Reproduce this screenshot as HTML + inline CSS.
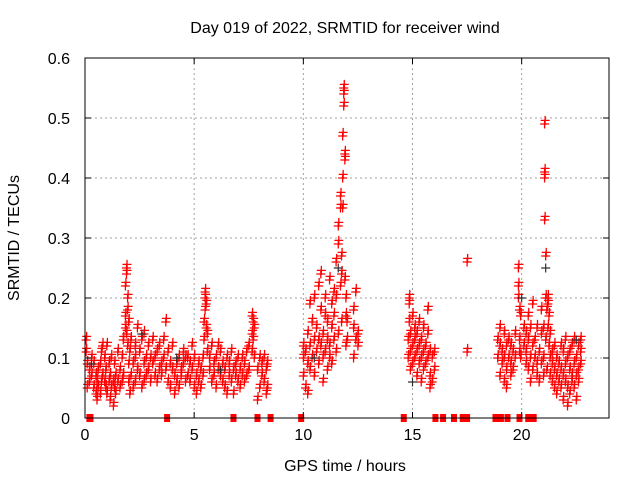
<!DOCTYPE html>
<html><head><meta charset="utf-8"><style>
html,body{margin:0;padding:0;background:#fff}
svg{display:block;font-family:"Liberation Sans",sans-serif}
</style></head><body>
<svg id="chart" width="640" height="480">
<rect width="640" height="480" fill="#fff"/>
</svg>
<script>
// ---- data ----
const xTicks = [0, 5, 10, 15, 20];
const yTicks = [0, 0.1, 0.2, 0.3, 0.4, 0.5, 0.6];
const yTickLabels = ["0", "0.1", "0.2", "0.3", "0.4", "0.5", "0.6"];
// groups: [hour, value, value, ...]
const srmtidGroups = [
[0.05,.13,.11],[0.1,.05,.09],[0.2,.08,.06],[0.3,.07,.1],[0.4,.05,.09],[0.5,.04,.07],[0.55,.03,.06],[0.6,.08,.05],[0.7,.09,.04],[0.75,.11,.06],[0.8,.07,.12],[0.9,.1,.06],[0.95,.05,.08],[1.0,.12,.04],[1.1,.06,.09],[1.15,.03,.07],[1.2,.05,.1],[1.3,.02,.06],[1.35,.09,.05],[1.4,.04,.07],[1.5,.06,.11],[1.6,.08,.05],[1.7,.1,.06],[1.75,.13,.07],
[1.85,.15,.22,.17],[1.9,.25,.24,.14],[1.95,.18,.2,.12],[2.0,.09,.06,.16],[2.05,.04,.11],
[2.1,.07,.13],[2.2,.05,.09],[2.3,.1,.12,.06],[2.4,.08,.15],[2.5,.07,.11],[2.6,.05,.13],[2.7,.09,.06,.14],[2.8,.1,.07],[2.9,.08,.12],[3.0,.06,.1],
[3.1,.09,.13],[3.2,.07,.1],[3.3,.11,.06],[3.4,.08,.12],[3.5,.07,.09],[3.6,.1,.13],[3.7,.08,.16],[3.8,.06,.11],[3.9,.05,.09],[4.0,.08,.12],[4.1,.07,.04],[4.2,.09,.06],[4.3,.1,.05],[4.4,.08,.07],[4.5,.09,.11],[4.6,.06,.1],
[4.7,.07,.1],[4.8,.06,.09],[4.9,.08,.12],[5.0,.05,.1],[5.1,.07,.04],[5.2,.09,.06],[5.3,.08,.05],[5.4,.1,.07],
[5.45,.13,.16],[5.5,.2,.18,.21],[5.55,.15,.19],[5.6,.11,.14],
[5.7,.08,.1],[5.8,.06,.12],[5.9,.09,.07],[6.0,.1,.05],[6.1,.08,.12],[6.2,.07,.11],[6.3,.09,.06],[6.4,.05,.08],[6.5,.1,.04],[6.6,.07,.09],[6.7,.06,.11],[6.8,.04,.08],[6.9,.09,.07],
[7.0,.06,.1],[7.1,.08,.05],[7.2,.1,.07],[7.3,.09,.06],[7.4,.07,.11],[7.5,.08,.12],
[7.65,.14,.17,.11],[7.7,.16,.13],[7.75,.1,.15],
[7.9,.08,.03],[8.0,.1,.05],[8.1,.07,.09],[8.2,.06,.1],[8.3,.08,.04],[8.35,.05,.09],
[10.0,.1,.07,.12],[10.1,.05,.11],[10.2,.09,.14,.04],[10.3,.12,.19,.08],[10.4,.1,.16],[10.5,.13,.07,.2],[10.6,.11,.15],[10.7,.22,.13,.09],[10.8,.24,.12,.18],[10.9,.1,.14,.06],[11.0,.17,.11,.2],[11.1,.13,.08,.16],[11.2,.12,.23,.1],[11.3,.15,.19,.09],
[11.4,.13,.21,.17],[11.5,.26,.11,.2],[11.6,.29,.32,.14],[11.7,.37,.22,.35],[11.75,.27,.16,.24],[11.8,.35,.4,.47],[11.85,.52,.55,.54],[11.9,.44,.43,.23],[11.95,.2,.17,.12],[12.0,.16,.13],
[12.3,.1,.15,.18],[12.4,.21,.13],[12.5,.12,.14],
[14.8,.1,.13],[14.85,.2,.19,.16],[14.9,.11,.08,.14],[15.0,.12,.17,.09],[15.1,.1,.13,.15],[15.2,.11,.14,.07],[15.3,.09,.12,.16],[15.4,.13,.1,.06],[15.5,.11,.08,.15],[15.6,.12,.09],[15.7,.18,.1,.14],[15.8,.07,.11,.05],[15.9,.1,.06],[16.0,.08,.11],
[17.5,.26,.11],
[18.9,.1,.13],[19.0,.12,.07,.15],[19.1,.09,.11],[19.2,.14,.1,.06],[19.3,.12,.08,.05],[19.4,.1,.13],[19.5,.09,.07,.12],[19.6,.11,.08],[19.7,.1,.14],
[19.85,.22,.25,.2],[19.9,.18,.13,.11],[19.95,.17,.1],
[20.1,.15,.12],[20.2,.09,.14,.11],[20.3,.13,.08,.17],[20.4,.1,.15,.06],[20.5,.12,.19,.08],[20.6,.13,.1],[20.7,.09,.15,.07],[20.8,.11,.06],[20.9,.14,.09,.18],
[21.0,.15,.1,.07],[21.05,.33,.4,.41,.49],[21.1,.27,.2,.13],[21.15,.18,.08],[21.2,.2,.19,.15],[21.25,.17,.12],[21.3,.1,.14,.07],
[21.4,.09,.06,.11],[21.5,.08,.12,.05],[21.6,.1,.07,.04],[21.7,.09,.06],[21.8,.12,.08,.05],[21.9,.07,.11,.03],[22.0,.09,.06,.13],[22.1,.05,.1,.02],[22.2,.08,.11,.04],[22.3,.07,.12,.06],[22.4,.09,.05,.13],[22.5,.1,.07,.03],[22.6,.08,.12,.06],[22.7,.11,.09,.13]
];
const zeroHours = [0.2,0.25,3.76,6.8,7.9,8.5,9.9,14.6,16.05,16.4,16.9,17.3,17.45,17.5,18.8,19.05,19.35,19.9,20.3,20.55];
const darkGroups = [[0.3,.09],[2.6,.14],[4.2,.1],[6.2,.08],[10.5,.1],[11.6,.25],[15.0,.06],[20.0,.2],[21.1,.25],[22.5,.13]];

// ---- axes ----
const L=85, R=609, T=58, B=418, XMAX=24, YMAX=0.6;
const xs = h => L + h/XMAX*(R-L);
const ys = v => B - v/YMAX*(B-T);
const svg = document.getElementById('chart');
const NS='http://www.w3.org/2000/svg';
function mk(tag, attrs){const e=document.createElementNS(NS,tag);for(const k in attrs)e.setAttribute(k,attrs[k]);return e;}

const grid = mk('g',{stroke:'#a0a0a0','stroke-width':1,'stroke-dasharray':'2,3'});


svg.appendChild(grid);
xTicks.forEach(t=>{ if(t>0) grid.appendChild(mk('line',{x1:xs(t),x2:xs(t),y1:T,y2:B})); });
yTicks.forEach(t=>{ if(t>0 && t<YMAX) grid.appendChild(mk('line',{x1:L,x2:R,y1:ys(t),y2:ys(t)})); });

const pts = mk('g',{stroke:'#ff0000','stroke-width':1.3,fill:'none'});


svg.appendChild(pts);
function cross(g,h,v){
  const x=xs(h), y=ys(v);
  const p=mk('path',{d:`M${x-4.5},${y}h9M${x},${y-4.5}v9`});
  
  
  g.appendChild(p);
}
srmtidGroups.forEach(g=>{ for(let i=1;i<g.length;i++){ cross(pts,g[0],g[i]); cross(pts,g[0]+0.025,g[i]+0.006);} });
const dark = mk('g',{stroke:'#303030','stroke-width':1.2,fill:'none'});


svg.appendChild(dark);
darkGroups.forEach(g=>cross(dark,g[0],g[1]));
zeroHours.forEach(h=>{
  const r=mk('rect',{x:xs(h)-3,y:ys(0)-4,width:6,height:8,fill:'#ff0000'});
  
  
  svg.appendChild(r);
});

const frame = mk('rect',{x:L,y:T,width:R-L,height:B-T,fill:'none',stroke:'#000','stroke-width':1});


svg.appendChild(frame);

const ax = mk('g',{stroke:'#000','stroke-width':1});


svg.appendChild(ax);
const lab = mk('g',{fill:'#000','font-size':'16px'});


svg.appendChild(lab);
xTicks.forEach(t=>{
  ax.appendChild(mk('line',{x1:xs(t),x2:xs(t),y1:B,y2:B-6}));
  ax.appendChild(mk('line',{x1:xs(t),x2:xs(t),y1:T,y2:T+6}));
  const tx=mk('text',{x:xs(t),y:B+22,'text-anchor':'middle'}); tx.textContent=t;
  
  
  lab.appendChild(tx);
});
yTicks.forEach((t,i)=>{
  ax.appendChild(mk('line',{x1:L,x2:L+6,y1:ys(t),y2:ys(t)}));
  ax.appendChild(mk('line',{x1:R,x2:R-6,y1:ys(t),y2:ys(t)}));
  const tx=mk('text',{x:L-15,y:ys(t)+6,'text-anchor':'end'}); tx.textContent=yTickLabels[i];
  
  
  lab.appendChild(tx);
});
</script>
<svg style="position:absolute;left:0;top:0" width="640" height="480">
<text x="345" y="33" text-anchor="middle" font-size="16" font-family="Liberation Sans, sans-serif">Day 019 of 2022, SRMTID for receiver wind</text>
<text x="345" y="471" text-anchor="middle" font-size="16" font-family="Liberation Sans, sans-serif">GPS time / hours</text>
<text x="19" y="238" text-anchor="middle" font-size="16" font-family="Liberation Sans, sans-serif" transform="rotate(-90 19 238)">SRMTID / TECUs</text>
</svg>
</body></html>
